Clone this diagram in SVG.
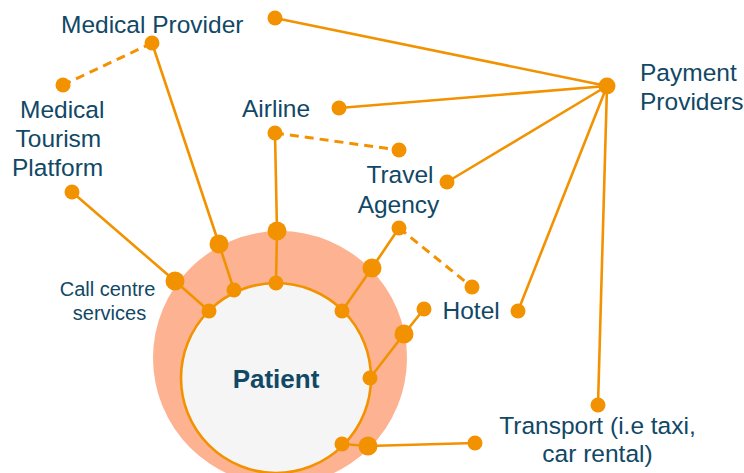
<svg xmlns="http://www.w3.org/2000/svg" width="744" height="473" viewBox="0 0 744 473">
  <style>
    .lbl { font-family: "Liberation Sans", Arial, sans-serif; fill: #104866; font-size: 24.5px; }
    .sm { font-size: 20px; }
    .link { stroke: #F39200; stroke-width: 2.6; fill: none; stroke-linecap: round; }
    .dash { stroke-dasharray: 9 6; stroke-linecap: butt; stroke-width: 3; }
    .dot { fill: #F39200; }
  </style>
  <rect width="744" height="473" fill="#ffffff"/>

  <!-- patient core: outer halo and inner disc -->
  <g id="patient">
    <circle cx="280" cy="358" r="127" fill="#FDB392"/>
    <circle cx="276" cy="378" r="95" fill="#F5F5F5" stroke="#F39200" stroke-width="2.6"/>
    <text x="276" y="388" text-anchor="middle" font-family="'Liberation Sans', Arial, sans-serif" font-weight="bold" font-size="26" fill="#104866">Patient</text>
  </g>

  <!-- connectors -->
  <g id="connectors">
    <polyline class="link" points="152,43 219,244 234,290"/>
    <line class="link dash" x1="152" y1="43" x2="63" y2="85"/>
    <polyline class="link" points="72,192 175,281 209,311"/>
    <polyline class="link" points="275,133 277,231 276,283"/>
    <line class="link dash" x1="275" y1="133" x2="399" y2="150"/>
    <polyline class="link" points="399,228 372,268 342,311"/>
    <line class="link dash" x1="399" y1="228" x2="472" y2="287"/>
    <polyline class="link" points="424,309 404,334 370,378"/>
    <polyline class="link" points="342,444 368,446 475,443"/>
    <line class="link" x1="607" y1="86" x2="275" y2="18"/>
    <line class="link" x1="607" y1="86" x2="339" y2="108"/>
    <line class="link" x1="607" y1="86" x2="447" y2="182"/>
    <line class="link" x1="607" y1="86" x2="518" y2="311"/>
    <line class="link" x1="607" y1="86" x2="598" y2="405"/>
  </g>

  <!-- joints on the patient rings -->
  <g id="ring-joints">
    <circle class="dot" cx="209" cy="311" r="7.5"/>
    <circle class="dot" cx="234" cy="290" r="7.5"/>
    <circle class="dot" cx="276" cy="283" r="7.5"/>
    <circle class="dot" cx="342" cy="311" r="7.5"/>
    <circle class="dot" cx="370" cy="378" r="7.5"/>
    <circle class="dot" cx="342" cy="444" r="7.5"/>
    <circle class="dot" cx="175" cy="281" r="9.5"/>
    <circle class="dot" cx="219" cy="244" r="9.5"/>
    <circle class="dot" cx="277" cy="231" r="9.5"/>
    <circle class="dot" cx="372" cy="268" r="9.5"/>
    <circle class="dot" cx="404" cy="334" r="9.5"/>
    <circle class="dot" cx="368" cy="446" r="9.5"/>
  </g>

  <g id="medical-provider">
    <circle class="dot" cx="152" cy="43" r="7.5"/>
    <circle class="dot" cx="275" cy="18" r="7.5"/>
    <text class="lbl" x="61" y="32.5">Medical Provider</text>
  </g>

  <g id="medical-tourism-platform">
    <circle class="dot" cx="63" cy="85" r="7.5"/>
    <circle class="dot" cx="72" cy="192" r="7.5"/>
    <text class="lbl" x="20" y="118">Medical</text>
    <text class="lbl" x="15.5" y="147">Tourism</text>
    <text class="lbl" x="12" y="176">Platform</text>
  </g>

  <g id="airline">
    <circle class="dot" cx="275" cy="133" r="7.5"/>
    <circle class="dot" cx="339" cy="108" r="7.5"/>
    <text class="lbl" x="242" y="117">Airline</text>
  </g>

  <g id="travel-agency">
    <circle class="dot" cx="399" cy="150" r="7.5"/>
    <circle class="dot" cx="447" cy="182" r="7.5"/>
    <circle class="dot" cx="399" cy="228" r="7.5"/>
    <text class="lbl" x="400" y="183.3" text-anchor="middle">Travel</text>
    <text class="lbl" x="398.5" y="213.3" text-anchor="middle">Agency</text>
  </g>

  <g id="hotel">
    <circle class="dot" cx="472" cy="287" r="7.5"/>
    <circle class="dot" cx="518" cy="311" r="7.5"/>
    <circle class="dot" cx="424" cy="309" r="7.5"/>
    <text class="lbl" x="442.5" y="319.3">Hotel</text>
  </g>

  <g id="payment-providers">
    <circle class="dot" cx="607" cy="86" r="8.5"/>
    <text class="lbl" x="640" y="80.7">Payment</text>
    <text class="lbl" x="640" y="110">Providers</text>
  </g>

  <g id="transport">
    <circle class="dot" cx="598" cy="405" r="7.5"/>
    <circle class="dot" cx="475" cy="443" r="7.5"/>
    <text class="lbl" x="597.5" y="434" text-anchor="middle">Transport (i.e taxi,</text>
    <text class="lbl" x="597.5" y="461.7" text-anchor="middle">car rental)</text>
  </g>

  <g id="call-centre">
    <text class="lbl sm" x="107.5" y="296" text-anchor="middle">Call centre</text>
    <text class="lbl sm" x="109.5" y="320" text-anchor="middle">services</text>
  </g>
</svg>
